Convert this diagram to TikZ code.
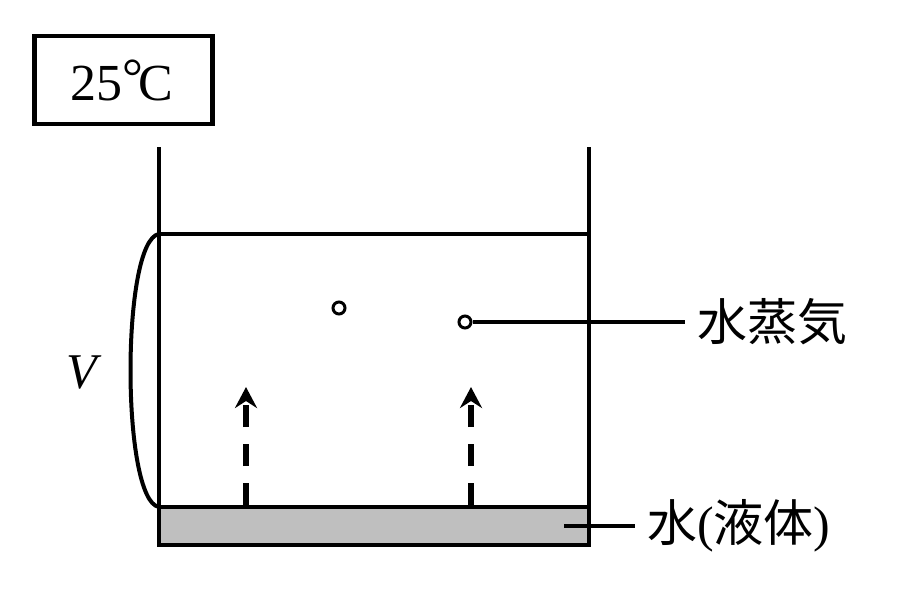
\documentclass[tikz,border=0pt]{standalone}
\usepackage{fontspec}
\setmainfont{Liberation Serif}
\newfontfamily\cjk{Noto Sans CJK JP}
\usetikzlibrary{arrows.meta}
\tikzset{
    wall/.style={line width=4.5pt},
    label/.style={font=\fontsize{50}{50}\selectfont, inner sep=0pt, inner xsep=12pt, anchor=west},
    vapour/.style={draw, circle, line width=3pt, minimum size=12pt, inner sep=0pt},
    rise/.style={line width=5.5pt, dash pattern=on 22pt off 17pt, -{Stealth[length=21pt, width=22pt, inset=7pt]}},
}
\begin{document}
\begin{tikzpicture}[x=1pt, y=-1pt]
    \useasboundingbox (0,0) rectangle (898,614);

    % temperature box
    \node[draw, wall, minimum width=178pt, minimum height=88pt, inner sep=0pt, font=\fontsize{52}{52}\selectfont] (temp) at (123.3,80.2) {\kern-3pt 25\raisebox{6pt}{°}\kern-.1em C};

    % vessel
    \fill[black!25] (159,507) rectangle (589,545);
    \draw[wall] (159,147) -- (159,545) -- (589,545) -- (589,147);
    \draw[wall] (159,507) -- (589,507);
    \draw[line width=4pt] (159,234) -- (589,234);

    % volume bracket
    \draw[line width=4pt] (159,234) .. controls (121,240) and (121,501) .. (159,507);
    \node[font=\fontsize{50}{50}\selectfont\itshape] (volume) at (82,373) {V};

    % rising arrows
    \coordinate (riseAstart) at (246,505);
    \coordinate (riseAend) at (246,387);
    \coordinate (riseBstart) at (471,505);
    \coordinate (riseBend) at (471,387);
    \draw[rise] (riseAstart) -- (riseAend);
    \draw[rise] (riseBstart) -- (riseBend);

    % vapour
    \node[vapour] (dotA) at (339,308) {};
    \node[vapour] (dotB) at (465,322) {};
    \node[label] (vapourlabel) at (685,322) {\cjk 水蒸気};
    \draw[wall] (dotB) -- (vapourlabel);

    % liquid
    \coordinate (waterpoint) at (564,526);
    \node[label] (waterlabel) at (635,526) {\cjk 水{\rmfamily(}液体{\rmfamily)}};
    \draw[wall] (waterpoint) -- (waterlabel);
\end{tikzpicture}
\end{document}
